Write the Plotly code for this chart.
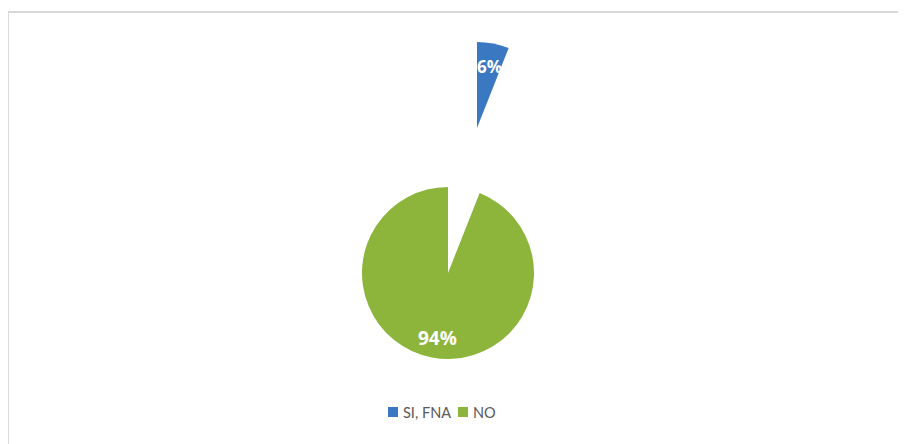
import plotly.graph_objects as go

# Daten
labels = ["SI, FNA", "NO"]
values = [6, 94]
colors = ["#3b78c2", "#8db53c"]

W, H = 906, 444
OFF = 8  # Seitenrand der HTML-Seite (body margin)


def px(x):
    return (x - OFF) / W


def py(y):
    return (H - (y - OFF)) / H


def dom(cx, cy, r):
    # Bildschirm-Pixel -> paper domain
    return dict(x=[px(cx - r), px(cx + r)], y=[py(cy + r), py(cy - r)])


fig = go.Figure()

# grosses Stueck (NO)
fig.add_trace(go.Pie(
    labels=labels, values=values, sort=False, direction="clockwise", rotation=0,
    marker=dict(colors=["rgba(0,0,0,0)", colors[1]], line=dict(width=0)),
    textinfo="none", domain=dom(448, 273, 86), showlegend=False, hoverinfo="skip",
))

# herausgezogenes Stueck (SI, FNA)
fig.add_trace(go.Pie(
    labels=labels, values=values, sort=False, direction="clockwise", rotation=0,
    marker=dict(colors=[colors[0], "rgba(0,0,0,0)"], line=dict(width=0)),
    textinfo="none", domain=dom(477, 128, 86), showlegend=False, hoverinfo="skip",
))

total = sum(values)
pct = [f"<b>{round(v / total * 100)}%</b>" for v in values]
label_pos = [(489, 66), (437, 338)]
label_size = [17, 19]

annotations = []
for t, (x, y), s in zip(pct, label_pos, label_size):
    annotations.append(dict(text=t, x=px(x), y=py(y), xref="paper", yref="paper",
                            xanchor="center", yanchor="middle", showarrow=False,
                            font=dict(color="white", size=s, family="Open Sans")))

# Legende (manuell, enger als die Plotly-Legende)
shapes = []
leg_items = [(388, 401), (458, 471)]
for lab, col, (mx, tx) in zip(labels, colors, leg_items):
    shapes.append(dict(type="rect", xref="paper", yref="paper",
                       x0=px(mx), x1=px(mx + 10), y0=py(417), y1=py(407),
                       fillcolor=col, line=dict(width=0)))
    annotations.append(dict(text=lab, x=px(tx), y=py(412), xref="paper", yref="paper",
                            xanchor="left", yanchor="middle", showarrow=False,
                            font=dict(size=14.5, color="#595959", family="Lato")))

# Rahmen
shapes.append(dict(type="rect", xref="paper", yref="paper",
                   x0=px(8), x1=1.05, y0=-0.05, y1=py(12),
                   line=dict(color="#d9d9d9", width=2)))

fig.update_layout(
    width=W, height=H, margin=dict(l=0, r=0, t=0, b=0),
    paper_bgcolor="white", plot_bgcolor="white",
    annotations=annotations, shapes=shapes,
)

fig.write_html("out.html")
